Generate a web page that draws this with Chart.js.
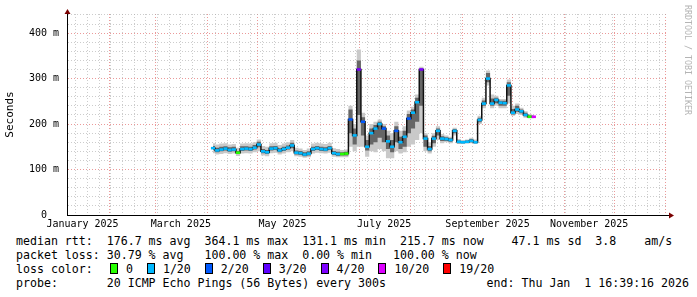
<!DOCTYPE html>
<html>
<head>
<meta charset="utf-8">
<script src="https://cdn.jsdelivr.net/npm/chart.js@4/dist/chart.umd.min.js"></script>
<style>
html,body{margin:0;padding:0;background:#fff;}
#wrap{position:relative;width:697px;height:297px;overflow:hidden;background:#fff;font-family:"DejaVu Sans Mono",monospace;color:#000;}
#c{position:absolute;left:0;top:0;}
.row{position:absolute;font-size:11.6px;line-height:14px;white-space:pre;}
.item{display:inline-block;white-space:pre;}
.box{display:inline-block;width:6px;height:9px;border:1px solid #000;vertical-align:-1px;margin-right:1px;}
#wm{position:absolute;left:683px;top:5px;writing-mode:vertical-rl;font-size:8.3px;line-height:10px;color:#b4b4b4;white-space:pre;}
</style>
</head>
<body>
<div id="wrap">
  <canvas id="c" width="697" height="232"></canvas>
  <div id="wm">RRDTOOL / TOBI OETIKER</div>
  <div class="row" id="r1" style="left:16px;top:234px;"></div>
  <div class="row" id="r2" style="left:16px;top:248px;"></div>
  <div class="row" id="r3a" style="left:16px;top:262px;"></div>
  <div class="row" id="r3b" style="left:110px;top:262px;"></div>
  <div class="row" id="r4" style="left:16px;top:276px;"></div>
  <div class="row" id="r4e" style="right:8px;top:276px;"></div>
</div>
<script>
// ---- data (values in ms, time in days since 2025-01-01 00:00 local) ----
const sampleStart = 93.3;      // first consolidated sample (Apr 4 2025)
const sampleStep = 2.5;        // RRA step in days
const medianRtt = [147,142,144,146,143,144,137,145,146,145,
  148,155,140,138,146,147,142,145,148,153,
  137,136,133,135,145,147,145,144,147,136,
  134,134,135,210,175,320,205,150,180,190,
  200,190,162,150,185,160,172,212,225,248,
  320,168,145,168,185,168,167,165,185,161,
  160,161,163,160,209,245,300,245,253,247,
  246,285,225,232,228,220,216,216];
const smokeMin = [136,133,134,136,134,135,130,135,136,135,138,140,131,129,136,137,133,135,138,140,129,128,126,127,135,137,136,135,137,128,127,127,127,
  150,140,150,150,128,140,138,145,140,125,125,140,135,138,150,155,165,180,140,135,150,165,158,160,158,175,156,156,157,158,156,200,235,285,235,240,235,235,245,218,222,220,214,213,213];
const smokeMax = [158,155,157,158,155,156,148,157,158,157,160,166,152,150,158,159,154,157,160,165,148,146,143,146,157,159,157,156,159,147,145,143,144,
  240,200,364,225,175,200,205,210,200,185,180,205,185,195,230,238,265,326,180,160,180,195,178,175,172,192,167,165,166,170,166,218,258,318,265,262,255,255,298,240,245,236,228,222,220];
const smokeInnerLo = [143,138,140,142,139,140,134,141,142,141,144,149,136,134,142,143,138,141,144,147,133,132,129,131,141,143,141,140,143,132,130,131,131,
  180,155,220,175,142,155,160,170,160,145,138,160,145,150,180,190,205,240,150,140,158,175,163,163,161,180,158,158,159,160,158,204,240,292,240,246,240,240,262,221,227,224,217,215,215];
const smokeInnerHi = [152,148,150,151,149,150,141,151,151,150,154,161,145,143,151,152,147,150,153,159,142,141,138,140,150,152,150,149,152,141,139,138,139,
  232,190,340,215,165,190,198,205,195,175,165,195,172,185,222,232,258,321,175,152,174,190,173,171,169,189,164,163,164,167,163,214,252,312,256,258,251,251,292,233,240,232,225,219,218];
const lossIndex = [1,1,1,1,1,1,0,1,1,1, 1,1,1,1,1,1,1,1,1,1, 1,1,1,1,1,1,1,1,1,1,
  1,0,0,2,1,4,2,1,1,1, 1,2,1,1,2,1,1,2,1,1, 4,1,1,1,1,1,1,1,1,1,
  1,1,1,1,1,1,1,1,1,1, 1,1,1,1,1,1,0,5];
const lossLabels = ['0','1/20','2/20','3/20','4/20','10/20','19/20'];
const lossColors = ['#26ff00','#00b8ff','#0059ff','#5e00ff','#7e00ff','#dd00ff','#ff0000'];
const xMonthLabels = ['January 2025','March 2025','May 2025','July 2025','September 2025','November 2025'];
const yMajorStep = 100, yMinorStep = 20, yMax = 442;

const legendRtt = 'median rtt:  176.7 ms avg  364.1 ms max  131.1 ms min  215.7 ms now    47.1 ms sd  3.8    am/s';
const legendLoss = 'packet loss: 30.79 % avg   100.00 % max  0.00 % min   100.00 % now';
const legendProbe = 'probe:       20 ICMP Echo Pings (56 Bytes) every 300s';
const legendEnd = 'end: Thu Jan  1 16:39:16 2026';

// ---- time axis helpers ----
const dayIndex = (y, m, d) => (Date.UTC(y, m, d) - Date.UTC(2025, 0, 1)) / 86400000;
const X_MAX = 365 + (16 + 39/60 + 16/3600) / 24;
const X_MIN = X_MAX - 360;

const xTicks = [];
for (let m = 1; m <= 12; m++) xTicks.push({value: dayIndex(2025, m, 1), kind: 'major'});
for (let d = dayIndex(2025, 0, 12); d < X_MAX; d += 7) {
  if (!xTicks.some(t => Math.abs(t.value - d) < 0.01)) xTicks.push({value: d, kind: 'minor'});
}
xMonthLabels.forEach((lab, k) => xTicks.push({value: dayIndex(2025, 2 * k, 16), kind: 'label', text: lab}));
const xTicksIn = xTicks.filter(t => t.value >= X_MIN && t.value <= X_MAX).sort((a, b) => a.value - b.value);

const yTicks = [];
for (let v = 0; v <= yMax; v += yMinorStep) yTicks.push({value: v});

const pts = arr => arr.map((v, i) => ({x: sampleStart + sampleStep * i, y: v}));

const RED = 'rgba(222,90,90,0.62)';
const GREY = 'rgba(170,170,170,0.6)';
const FONT = '"DejaVu Sans Mono", monospace';

const axisArrows = {
  id: 'axisArrows',
  afterDraw(chart) {
    const {ctx, chartArea: a} = chart;
    ctx.save();
    ctx.strokeStyle = '#000';
    ctx.lineWidth = 1;
    ctx.beginPath();
    ctx.moveTo(a.right, Math.round(a.bottom) + 0.5);
    ctx.lineTo(a.right + 3, Math.round(a.bottom) + 0.5);
    ctx.stroke();
    ctx.fillStyle = '#7a0000';
    const by = Math.round(a.bottom) + 0.5;
    ctx.beginPath();
    ctx.moveTo(a.right + 7, by);
    ctx.lineTo(a.right + 2, by - 3);
    ctx.lineTo(a.right + 2, by + 3);
    ctx.closePath();
    ctx.fill();
    const lx = Math.round(a.left) + 0.5;
    ctx.beginPath();
    ctx.moveTo(lx, a.top - 5);
    ctx.lineTo(lx - 3, a.top);
    ctx.lineTo(lx + 3, a.top);
    ctx.closePath();
    ctx.fill();
    ctx.restore();
  }
};

const common = {pointRadius: 0, borderWidth: 0, stepped: 'middle', tension: 0};

new Chart(document.getElementById('c'), {
  type: 'line',
  data: {
    datasets: [
      Object.assign({label: 'smokeMin', data: pts(smokeMin), fill: false, order: 5}, common),
      Object.assign({label: 'smokeMax', data: pts(smokeMax), fill: '-1', backgroundColor: '#c9c9c9', order: 4}, common),
      Object.assign({label: 'smokeInnerLo', data: pts(smokeInnerLo), fill: false, order: 3}, common),
      Object.assign({label: 'smokeInnerHi', data: pts(smokeInnerHi), fill: '-1', backgroundColor: '#666666', order: 2}, common),
      {label: 'median', data: pts(medianRtt), fill: false, borderColor: '#111', borderWidth: 1.5,
       stepped: 'middle', pointRadius: 0, order: 1},
      {label: 'loss', data: pts(medianRtt), showLine: false, fill: false, order: 0,
       pointStyle: 'line', pointRadius: 2.1, pointBorderWidth: 2.6,
       pointBorderColor: lossIndex.map(k => lossColors[k]),
       pointBackgroundColor: lossIndex.map(k => lossColors[k])}
    ]
  },
  options: {
    responsive: false,
    devicePixelRatio: 1,
    animation: false,
    events: [],
    layout: {padding: {top: 13, right: 30, left: 0, bottom: 0}},
    plugins: {legend: {display: false}, tooltip: {enabled: false}},
    scales: {
      x: {
        type: 'linear',
        min: X_MIN, max: X_MAX, bounds: 'data',
        afterBuildTicks: s => { s.ticks = xTicksIn.map(t => Object.assign({}, t)); },
        afterFit: s => { s.height = 17; },
        ticks: {
          autoSkip: false, maxRotation: 0, minRotation: 0, padding: 3,
          color: '#000', font: {family: FONT, size: 10},
          callback: (v, i, ticks) => ticks[i].text || ''
        },
        grid: {
          drawTicks: false,
          color: c => c.tick && c.tick.kind === 'major' ? RED : (c.tick && c.tick.kind === 'minor' ? GREY : 'rgba(0,0,0,0)'),
          lineWidth: 1
        },
        border: {display: true, color: '#000', width: 1, dash: [1, 2]}
      },
      y: {
        type: 'linear',
        min: 0, max: yMax, bounds: 'data',
        afterBuildTicks: s => { s.ticks = yTicks.map(t => Object.assign({}, t)); },
        afterFit: s => { s.width = 67; },
        ticks: {
          autoSkip: false, padding: 8, color: '#000', font: {family: FONT, size: 10},
          callback: v => v % yMajorStep === 0 ? (v === 0 ? '0  ' : v + ' m') : ''
        },
        grid: {
          drawTicks: false,
          color: c => c.tick && c.tick.value % yMajorStep === 0 ? RED : GREY,
          lineWidth: 1
        },
        border: {display: true, color: '#000', width: 1, dash: [1, 2]},
        title: {display: true, text: 'Seconds', color: '#000', font: {family: FONT, size: 11}, padding: {top: 4, bottom: 0}}
      }
    }
  },
  plugins: [axisArrows]
});

// ---- legend text ----
document.getElementById('r1').textContent = legendRtt;
document.getElementById('r2').textContent = legendLoss;
document.getElementById('r3a').textContent = 'loss color:';
const r3b = document.getElementById('r3b');
lossLabels.forEach((lab, k) => {
  const it = document.createElement('span');
  it.className = 'item';
  const b = document.createElement('span');
  b.className = 'box';
  b.style.background = lossColors[k];
  it.appendChild(b);
  it.appendChild(document.createTextNode(' ' + lab + (k < lossLabels.length - 1 ? '  ' : '')));
  r3b.appendChild(it);
});
document.getElementById('r4').textContent = legendProbe;
document.getElementById('r4e').textContent = legendEnd;
</script>
</body>
</html>
